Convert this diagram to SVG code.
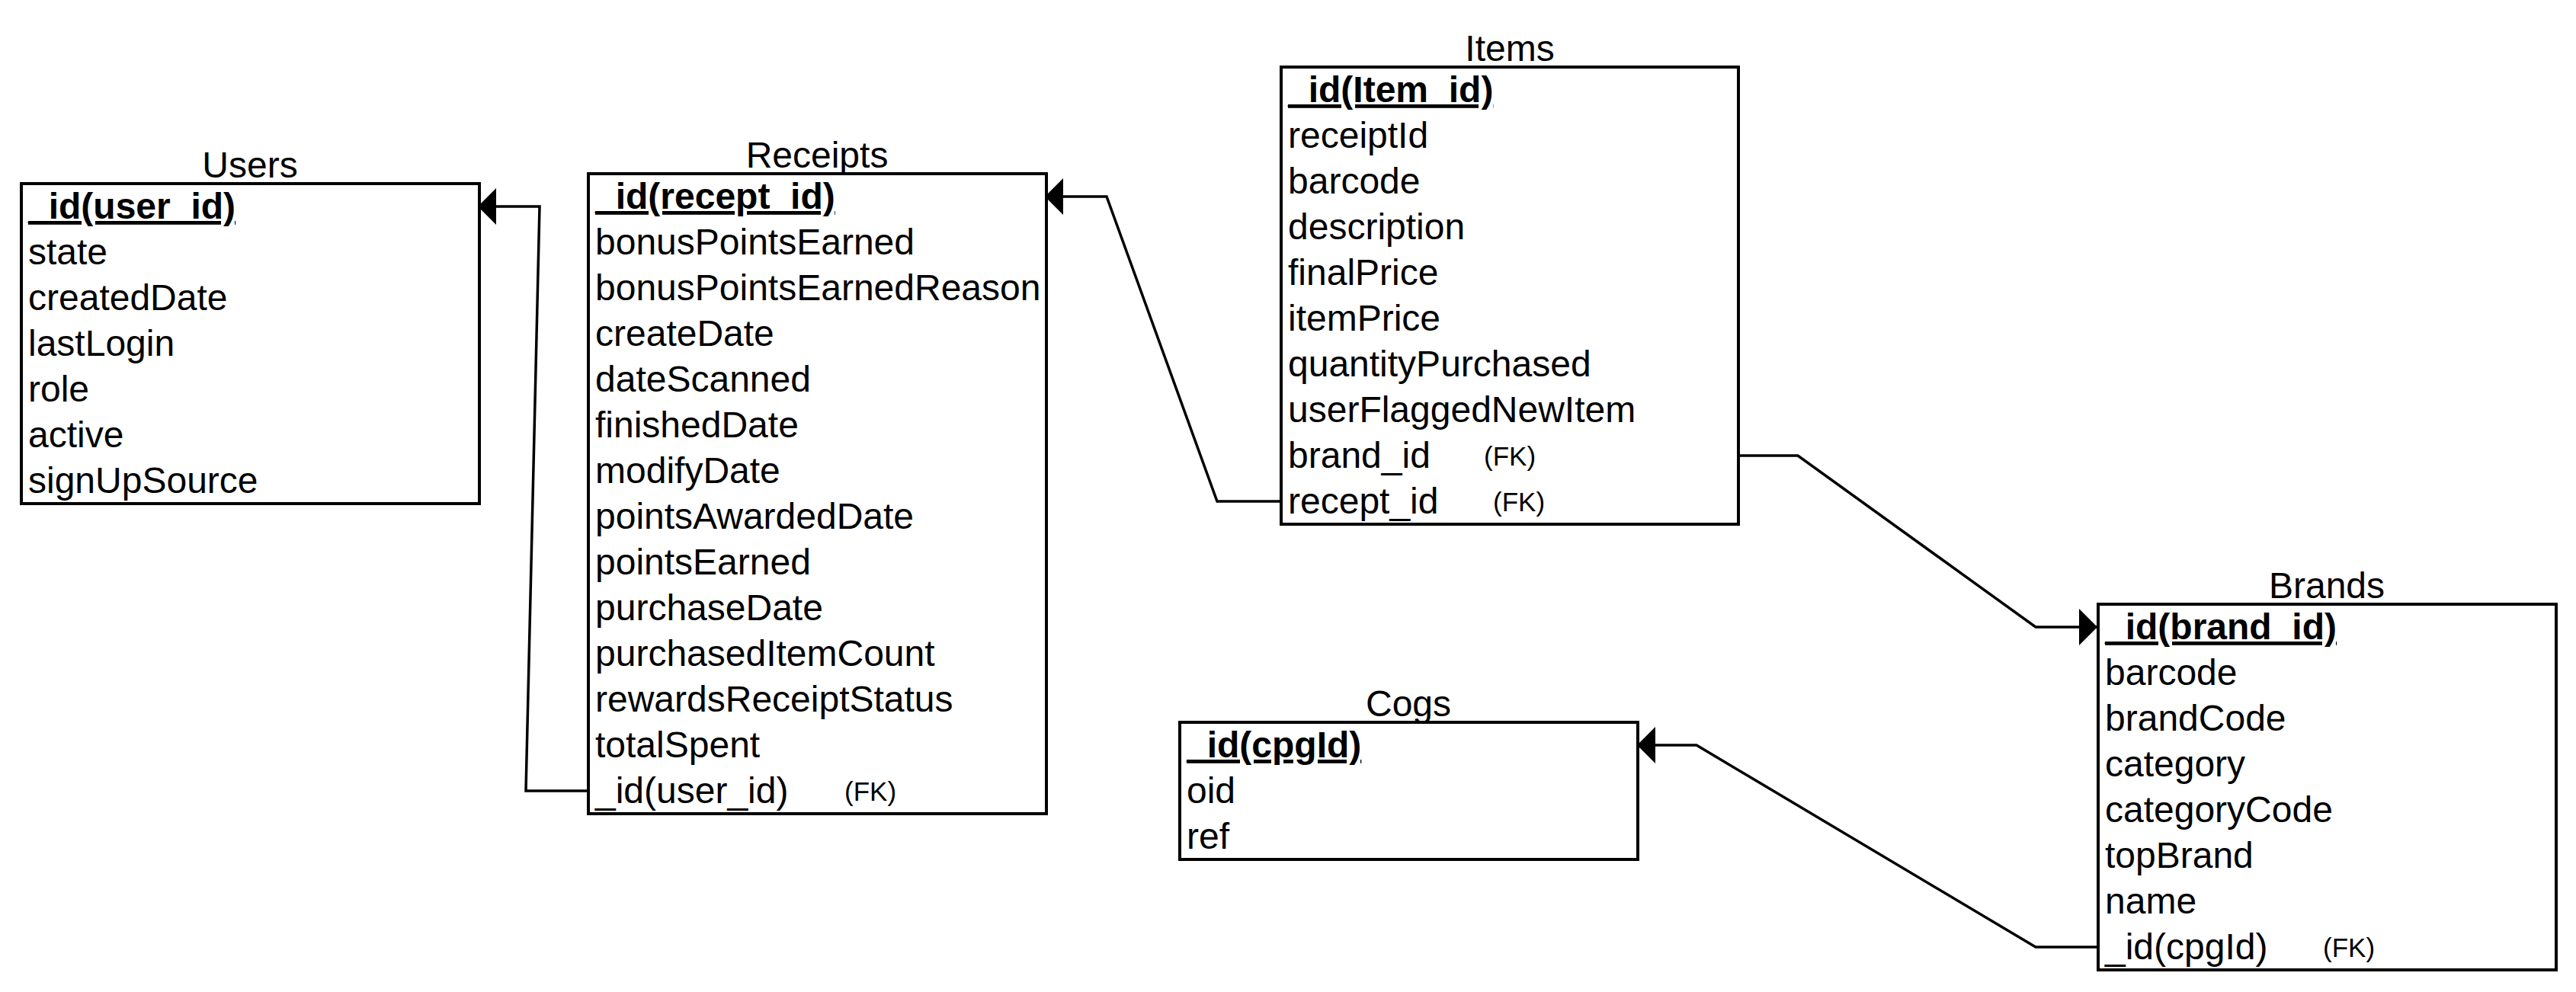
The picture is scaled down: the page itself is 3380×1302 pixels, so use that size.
<svg xmlns="http://www.w3.org/2000/svg" width="3380" height="1302" viewBox="0 0 3380 1302">
<style>
text{font-family:"Liberation Sans",Arial,Helvetica,sans-serif;fill:#000}
.t{font-size:48px;text-anchor:middle}
.r{font-size:48px}
.pk{font-size:48px;font-weight:bold;text-decoration:underline;text-decoration-skip-ink:none;text-decoration-thickness:4px;text-underline-offset:6px}
.fk{font-size:35px}
.box{fill:#fff;stroke:#000;stroke-width:4}
.c{fill:none;stroke:#000;stroke-width:3.5;stroke-linejoin:miter}
</style>
<defs>
<marker id="arr" markerUnits="userSpaceOnUse" markerWidth="24" markerHeight="48" viewBox="0 0 24 48" refX="24" refY="24" orient="auto">
<path d="M0,0 L24,24 L0,48 Z" fill="#000"/>
</marker>
</defs>
<rect width="3380" height="1302" fill="#fff"/>
<g id="connectors">
<polyline class="c" points="772,1038 690,1038 708,271 627,271" marker-end="url(#arr)"/>
<polyline class="c" points="1681,658 1597,658 1452,258 1371,258" marker-end="url(#arr)"/>
<polyline class="c" points="2280,598 2359,598 2671,823 2752,823" marker-end="url(#arr)"/>
<polyline class="c" points="2753,1243 2671,1243 2226,978 2148,978" marker-end="url(#arr)"/>
</g>
<g id="users">
<text class="t" x="328" y="233">Users</text>
<rect class="box" x="28" y="241" width="601" height="420"/>
<text class="pk" x="37" y="287">_id(user_id)</text>
<text class="r" x="37" y="347">state</text>
<text class="r" x="37" y="407">createdDate</text>
<text class="r" x="37" y="467">lastLogin</text>
<text class="r" x="37" y="527">role</text>
<text class="r" x="37" y="587">active</text>
<text class="r" x="37" y="647">signUpSource</text>
</g>
<g id="receipts">
<text class="t" x="1072" y="220">Receipts</text>
<rect class="box" x="772" y="228" width="601" height="840"/>
<text class="pk" x="781" y="274">_id(recept_id)</text>
<text class="r" x="781" y="334">bonusPointsEarned</text>
<text class="r" x="781" y="394">bonusPointsEarnedReason</text>
<text class="r" x="781" y="454">createDate</text>
<text class="r" x="781" y="514">dateScanned</text>
<text class="r" x="781" y="574">finishedDate</text>
<text class="r" x="781" y="634">modifyDate</text>
<text class="r" x="781" y="694">pointsAwardedDate</text>
<text class="r" x="781" y="754">pointsEarned</text>
<text class="r" x="781" y="814">purchaseDate</text>
<text class="r" x="781" y="874">purchasedItemCount</text>
<text class="r" x="781" y="934">rewardsReceiptStatus</text>
<text class="r" x="781" y="994">totalSpent</text>
<text class="r" x="781" y="1054">_id(user_id)</text>
<text class="fk" x="1108" y="1051">(FK)</text>
</g>
<g id="items">
<text class="t" x="1981" y="80">Items</text>
<rect class="box" x="1681" y="88" width="600" height="600"/>
<text class="pk" x="1690" y="134">_id(Item_id)</text>
<text class="r" x="1690" y="194">receiptId</text>
<text class="r" x="1690" y="254">barcode</text>
<text class="r" x="1690" y="314">description</text>
<text class="r" x="1690" y="374">finalPrice</text>
<text class="r" x="1690" y="434">itemPrice</text>
<text class="r" x="1690" y="494">quantityPurchased</text>
<text class="r" x="1690" y="554">userFlaggedNewItem</text>
<text class="r" x="1690" y="614">brand_id</text>
<text class="fk" x="1947" y="611">(FK)</text>
<text class="r" x="1690" y="674">recept_id</text>
<text class="fk" x="1959" y="671">(FK)</text>
</g>
<g id="cogs">
<text class="t" x="1848" y="940">Cogs</text>
<rect class="box" x="1548" y="948" width="601" height="180"/>
<text class="pk" x="1557" y="994">_id(cpgId)</text>
<text class="r" x="1557" y="1054">oid</text>
<text class="r" x="1557" y="1114">ref</text>
</g>
<g id="brands">
<text class="t" x="3053" y="785">Brands</text>
<rect class="box" x="2753" y="793" width="601" height="480"/>
<text class="pk" x="2762" y="839">_id(brand_id)</text>
<text class="r" x="2762" y="899">barcode</text>
<text class="r" x="2762" y="959">brandCode</text>
<text class="r" x="2762" y="1019">category</text>
<text class="r" x="2762" y="1079">categoryCode</text>
<text class="r" x="2762" y="1139">topBrand</text>
<text class="r" x="2762" y="1199">name</text>
<text class="r" x="2762" y="1259">_id(cpgId)</text>
<text class="fk" x="3048" y="1256">(FK)</text>
</g>
</svg>
